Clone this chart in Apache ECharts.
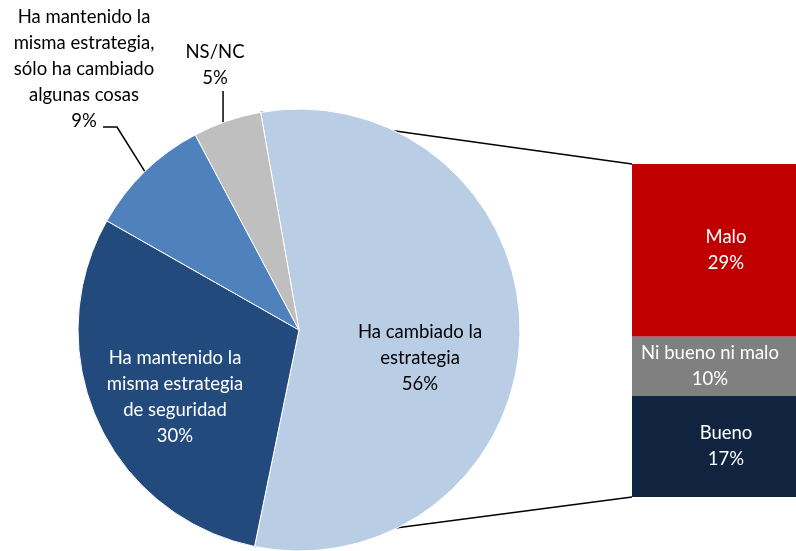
<!DOCTYPE html>
<html>
<head>
<meta charset="utf-8">
<script src="https://cdn.jsdelivr.net/npm/echarts@6/dist/echarts.min.js"></script>
<style>
  html, body { margin: 0; padding: 0; background: #fff; }
  #chart { width: 796px; height: 551px; }
</style>
</head>
<body>
<div id="chart"></div>
<script>
// pie data (clockwise from the top-left edge of the big slice)
const pieNames = [
  'Ha cambiado la\nestrategia',
  'Ha mantenido la\nmisma estrategia\nde seguridad',
  'Ha mantenido la\nmisma estrategia,\nsólo ha cambiado\nalgunas cosas',
  'NS/NC'
]
const pieValues = [56, 30, 9, 5]
const pieColors = ['#B9CDE5', '#234A7C', '#4F81BD', '#BFBFBF']

// breakdown of "Ha cambiado la estrategia" (bottom to top)
const barNames = ['Bueno', 'Ni bueno ni malo', 'Malo']
const barValues = [17, 10, 29]
const barColors = ['#10243F', '#808080', '#C00000']

// label centres, px
const pieLabelPos = [[420, 358], [175, 397], [84, 69], [215, 65]]
const barLabelOffset = [[12, 0], [-4, 0], [12, 0]]

const font = 'Lato, "Noto Sans", sans-serif'
const fontSize = 18.5
const cx = 299, cy = 330, r = 221
const startAngle = 100
const barLeft = 632, barTop = 164, barHeight = 333

const chart = echarts.init(document.getElementById('chart'))

const total = pieValues.reduce((a, b) => a + b, 0)
const rad = a => a * Math.PI / 180
const edge = a => [cx + r * Math.cos(rad(a)), cy - r * Math.sin(rad(a))]
// angle where each slice starts (clockwise)
const sliceStart = []
let acc = startAngle
pieValues.forEach(v => { sliceStart.push(acc); acc -= v / total * 360 })
const midAngle = i => sliceStart[i] - pieValues[i] / total * 180

const p1 = edge(startAngle)
const p2 = edge(sliceStart[1])

// leader lines of the two small slices
const a9 = edge(midAngle(2))
const aNs = edge(midAngle(3))
const leader9 = [a9, [117, 127], [103, 127]]
const leaderNs = [[aNs[0] - 4, aNs[1] + 2], [aNs[0] - 4, 91]]

const barSeries = barNames.map((name, i) => ({
  type: 'bar',
  name: name,
  stack: 'total',
  barWidth: '100%',
  data: [barValues[i]],
  itemStyle: { color: barColors[i] },
  label: {
    show: true,
    position: 'inside',
    formatter: '{a}\n{c}%',
    color: '#fff',
    fontFamily: font,
    fontSize: fontSize,
    lineHeight: 26,
    offset: barLabelOffset[i]
  }
}))

const lineStyle = { stroke: '#000', lineWidth: 1.5, fill: null }

chart.setOption({
  animation: false,
  grid: { left: barLeft, top: barTop, width: 190, height: barHeight },
  xAxis: { type: 'category', data: [''], show: false },
  yAxis: { type: 'value', min: 0, max: pieValues[0], show: false },
  series: [
    {
      type: 'pie',
      center: [cx, cy],
      radius: r,
      startAngle: startAngle,
      clockwise: true,
      data: pieNames.map((name, i) => ({
        name: name,
        value: pieValues[i],
        itemStyle: { color: pieColors[i] },
        label: {
          position: i < 2 ? 'inside' : 'outside',
          color: i === 1 ? '#fff' : '#000'
        }
      })),
      itemStyle: { borderColor: '#fff', borderWidth: 1 },
      label: {
        formatter: '{b}\n{c}%',
        fontFamily: font,
        fontSize: fontSize,
        lineHeight: 26,
        align: 'center',
        overflow: 'none'
      },
      labelLine: { show: false },
      labelLayout: params => {
        const p = pieLabelPos[params.dataIndex]
        return { x: p[0], y: p[1], align: 'center', verticalAlign: 'middle' }
      }
    },
    ...barSeries
  ],
  graphic: [
    { type: 'line', shape: { x1: p1[0], y1: p1[1], x2: barLeft, y2: barTop }, style: lineStyle },
    { type: 'line', shape: { x1: p2[0], y1: p2[1], x2: barLeft, y2: barTop + barHeight }, style: lineStyle },
    { type: 'polyline', shape: { points: leader9 }, style: lineStyle },
    { type: 'polyline', shape: { points: leaderNs }, style: lineStyle }
  ]
})
</script>
</body>
</html>
